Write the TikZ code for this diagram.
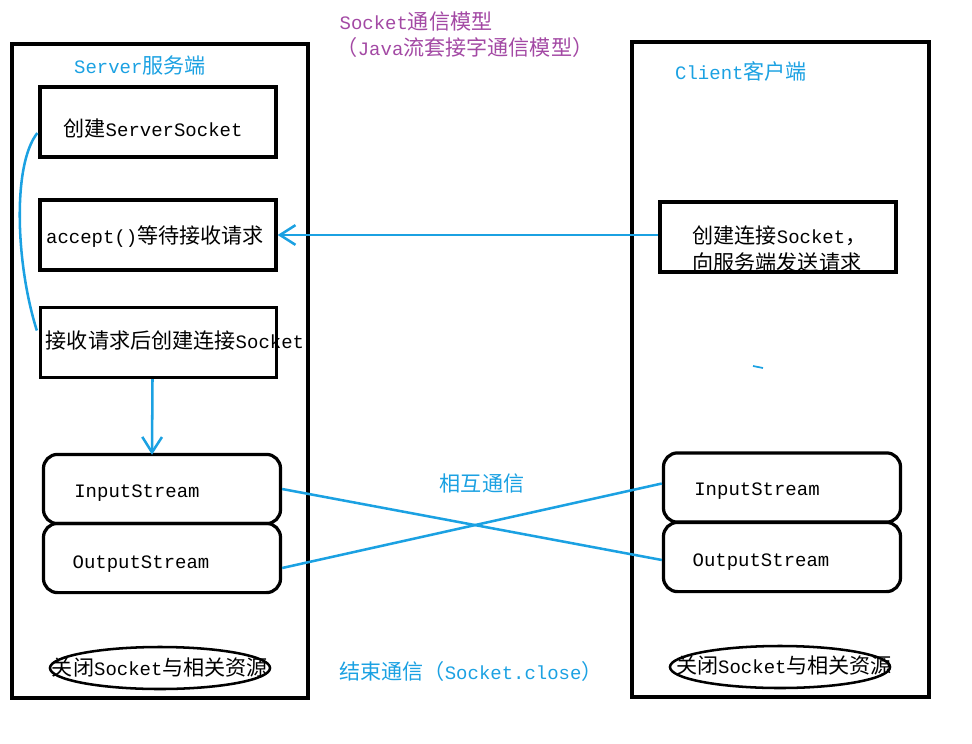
\documentclass[tikz,border=0pt]{standalone}
\usepackage{fontspec}
\setmainfont{Liberation Mono}[Scale=0.9]
\newfontfamily\cjkfont{Noto Sans CJK SC}
\newcommand{\zh}[1]{{\cjkfont #1}}
\definecolor{sockblue}{HTML}{1BA1E2}
\definecolor{titlepurple}{HTML}{A349A4}
\usetikzlibrary{arrows.meta,shapes.geometric,calc}

\begin{document}
\begin{tikzpicture}[x=0.025cm, y=-0.025cm,
  every node/.style={font=\fontsize{15}{18}\selectfont},
  stepbox/.style={draw, line width=2.3pt, minimum width=5.9cm, minimum height=1.75cm},
  streambox/.style={draw, line width=2.3pt, rounded corners=10pt, minimum width=5.925cm, minimum height=1.73cm},
  closering/.style={draw, ellipse, line width=1.8pt, minimum width=5.5cm, minimum height=1.05cm},
  bluetxt/.style={text=sockblue},
  flow/.style={sockblue, line width=1.8pt, -{Straight Barb[length=11pt, width=14pt]}},
  link/.style={sockblue, line width=1.8pt}]

\useasboundingbox (0,0) rectangle (972,743);

% === TOP: title ===
\node[text=titlepurple] (title) at (416,22) {Socket\zh{通信模型}};
\node[text=titlepurple] (subtitle) at (465,47) {\zh{（}Java\zh{流套接字通信模型）}};

% === LEFT: server side ===
\draw[line width=2.3pt] (12,44) rectangle (308,698);
\node[bluetxt] (srvhead) at (140,65) {Server\zh{服务端}};

\node[stepbox] (ssock) at (158,122) {};
\node (ssocktxt) at (153,128) {\zh{创建}ServerSocket};
\node[stepbox] (acc) at (158,235) {};
\node (acctxt) at (155,237) {accept()\zh{等待接收请求}};
\node[stepbox] (conn) at (158.5,342.5) {};
\node (conntxt) at (175,341) {\zh{接收请求后创建连接}Socket};

\node[streambox] (sin) at (162,489) {};
\node (sintxt) at (137,493) {InputStream};
\node[streambox] (sout) at (162,558) {};
\node (souttxt) at (141,564) {OutputStream};

\node[closering] (sclose) at (160,668) {};
\node (sclosetxt) at (160,667) {\zh{关闭}Socket\zh{与相关资源}};

% === RIGHT: client side ===
\draw[line width=2.3pt] (632,42) rectangle (929,697);
\node[bluetxt] (clihead) at (741,71) {Client\zh{客户端}};

\node[stepbox] (cli) at (778,237) {};
\node[anchor=west, align=left, font=\fontsize{15}{19}\selectfont] (clitxt) at (688,249)
  {\zh{创建连接}Socket\zh{，}\\\zh{向服务端发送请求}};

\node[streambox] (cin) at (782,487.5) {};
\node (cintxt) at (757,491) {InputStream};
\node[streambox] (cout) at (782,557) {};
\node (couttxt) at (761,562) {OutputStream};

\node[closering] (cclose) at (780,667) {};
\node (cclosetxt) at (784,665) {\zh{关闭}Socket\zh{与相关资源}};

% === connectors ===
\draw[link] ($(ssock.west)+(-1,11)$) .. controls (12,165) and (16,265) .. ($(conn.west)+(-2,-12)$);
\draw[flow] (cli.west |- acc.east) -- (acc.east);
\draw[flow] ($(conn.south)+(-6,0)$) -- ($(sin.north)+(-10,2)$);
\draw[link] (sin.east) -- ($(cout.west)+(0,3)$);
\draw[link] ($(sout.east)+(0,10)$) -- ($(cin.west)+(0,-4)$);
\draw[link, line width=1.2pt] (753,366) -- (763,368);

\node[bluetxt] (talktxt) at (482,484) {\zh{相互通信}};
\node[bluetxt] (endtxt) at (471,671) {\zh{结束通信（}Socket.close\zh{）}};

\end{tikzpicture}
\end{document}
